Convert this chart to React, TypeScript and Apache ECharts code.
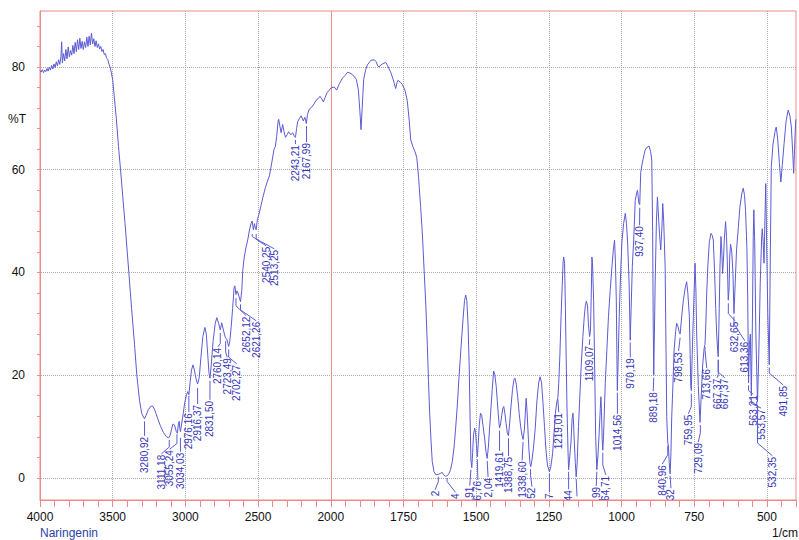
import React, { useEffect, useRef } from "react";
import * as echarts from "echarts";

// ---- spectrum 4000 -> 2000 cm-1 (compressed half of the axis) ----
const highWn = [
  4000, 3992, 3984, 3976, 3968, 3960, 3952, 3944, 3936, 3928, 3920, 3912, 3904, 3896, 3888, 3880,
  3872, 3864, 3856, 3851, 3846, 3838, 3830, 3822, 3814, 3806, 3798, 3790, 3782, 3774, 3766, 3758,
  3750, 3742, 3734, 3726, 3718, 3710, 3702, 3694, 3686, 3678, 3670, 3662, 3654, 3646, 3638, 3630,
  3622, 3614, 3606, 3598, 3590, 3582, 3574, 3566, 3558, 3550, 3542, 3534, 3526, 3518, 3510, 3500,
  3490, 3475, 3460, 3446, 3430, 3415, 3400, 3389, 3370, 3350, 3334, 3315, 3300, 3281, 3270, 3255,
  3235, 3225, 3210, 3190, 3170, 3150, 3130, 3115, 3105, 3095, 3085, 3075, 3062, 3055, 3048, 3043,
  3038, 3034, 3027, 3015, 3005, 2992, 2983, 2976, 2968, 2958, 2948, 2938, 2926, 2916, 2905, 2893,
  2880, 2866, 2856, 2845, 2838, 2831, 2822, 2810, 2795, 2784, 2770, 2760, 2750, 2740, 2730, 2723,
  2715, 2708, 2702, 2695, 2685, 2675, 2665, 2660, 2652, 2645, 2636, 2621, 2612, 2605, 2595, 2582,
  2570, 2558, 2548, 2541, 2532, 2525, 2518, 2513, 2505, 2495, 2480, 2468, 2450, 2435, 2422, 2405,
  2390, 2381, 2372, 2362, 2358, 2350, 2342, 2331, 2322, 2312, 2300, 2290, 2275, 2262, 2250, 2243,
  2235, 2228, 2215, 2204, 2189, 2178, 2168, 2160, 2148, 2130, 2115, 2102, 2088, 2074, 2062, 2051,
  2040, 2025, 2010,
];
const highT = [
  79.3, 79.0, 79.5, 78.9, 79.4, 79.1, 79.7, 79.2, 80.0, 79.4, 80.3, 79.6, 80.6, 79.9, 81.0, 80.2,
  81.4, 80.5, 82.0, 84.9, 80.8, 82.6, 81.2, 83.4, 81.6, 83.9, 82.0, 83.2, 82.3, 84.2, 82.6, 84.8,
  83.0, 85.3, 83.4, 85.6, 83.6, 85.0, 83.4, 84.9, 83.8, 85.8, 84.0, 86.0, 84.3, 86.6, 84.5, 85.5,
  84.0, 85.1, 83.8, 84.5, 83.5, 84.0, 83.0, 83.4, 82.4, 82.6, 81.7, 81.5, 80.6, 80.0, 79.0, 77.5,
  74.5, 70.0, 64.5, 60.0, 54.5, 49.5, 44.0, 40.0, 33.0, 26.0, 20.0, 15.0, 12.5, 11.5, 12.2, 13.3,
  14.0, 14.0, 13.2, 11.5, 10.0, 8.8, 8.0, 7.8, 8.3, 9.5, 10.5, 10.3, 9.0, 8.7, 10.5, 11.0,
  9.6, 9.0, 10.3, 12.5, 14.6, 16.2, 16.8, 16.2, 18.5, 21.0, 22.0, 21.0, 19.2, 18.3, 19.5, 23.5,
  27.5, 29.3, 28.0, 23.5, 20.5, 19.4, 22.0, 26.5, 30.0, 31.2, 30.0, 28.8, 30.2, 29.0, 27.8, 27.2,
  27.0, 26.2, 25.6, 26.5, 29.4, 33.0, 37.0, 37.4, 35.7, 36.4, 35.8, 34.3, 36.5, 40.5, 43.0, 45.0,
  46.5, 48.5, 49.5, 50.0, 48.3, 49.5, 48.6, 48.3, 50.3, 51.2, 53.0, 54.5, 56.5, 57.8, 58.8, 61.5,
  64.0, 64.5, 66.5, 69.5, 69.8, 68.5, 67.2, 68.8, 67.5, 66.3, 66.8, 67.4, 66.8, 67.2, 66.5, 66.3,
  68.0, 69.3, 70.0, 70.5, 69.5, 70.2, 69.0, 70.8, 71.8, 72.2, 72.8, 73.5, 73.8, 74.3, 73.8, 73.2,
  74.0, 75.0, 75.5,
];

// ---- spectrum 2000 -> 400 cm-1 ----
const lowWn = [
  2000, 1988, 1980, 1970, 1960, 1950, 1942, 1930, 1920, 1912, 1905, 1900, 1896, 1892, 1887, 1880,
  1874, 1862, 1850, 1845, 1838, 1834, 1828, 1822, 1811, 1805, 1794, 1785, 1777, 1772, 1769, 1760,
  1754, 1745, 1737, 1730, 1725, 1717, 1710, 1704, 1698, 1691, 1685, 1679, 1673, 1668, 1664, 1660,
  1655, 1651, 1645, 1638, 1630, 1622, 1617, 1612, 1605, 1598, 1594, 1588, 1582, 1576, 1571, 1565,
  1559, 1552, 1545, 1540, 1536, 1532, 1528, 1524, 1521, 1518, 1515, 1512, 1509, 1505, 1502, 1499,
  1496, 1493, 1489, 1485, 1481, 1476, 1471, 1466, 1462, 1458, 1454, 1450, 1445, 1440, 1436, 1431,
  1426, 1422, 1419.6, 1416, 1412, 1408, 1405, 1401, 1397, 1393, 1389, 1385, 1380, 1375, 1370, 1366,
  1362, 1357, 1352, 1347, 1342, 1338.6, 1334, 1331, 1328, 1325, 1322, 1319, 1315, 1312, 1308, 1303,
  1297, 1291, 1285, 1280, 1275, 1270, 1265, 1260, 1255, 1248, 1243, 1237, 1232, 1227.5, 1222, 1219,
  1216, 1212, 1208, 1204, 1201, 1199, 1196, 1193, 1190, 1187.7, 1184, 1182, 1179, 1176, 1174, 1170,
  1167, 1165, 1162.3, 1159, 1156, 1153, 1148, 1144, 1139, 1133, 1128, 1124.5, 1121, 1117, 1114, 1110,
  1107, 1104, 1102, 1100, 1096, 1092, 1089, 1085, 1081, 1077, 1073, 1071, 1069, 1066.5, 1064.5, 1062,
  1058, 1056, 1050, 1045, 1039, 1033, 1028, 1024, 1021, 1018, 1016, 1014.5, 1012, 1008, 1003, 999,
  993, 987, 983, 979, 974, 970.2, 967, 963, 958, 953, 948, 945, 940.5, 937.4, 934, 928,
  919, 912, 905, 900, 896, 893, 891, 889.2, 887, 884.4, 880, 876.5, 872, 869.6, 865.2, 861,
  858.3, 855, 850, 847, 844.6, 841, 838.8, 836, 833, 830, 827.4, 823, 819.2, 814, 810.3, 806,
  801, 798.5, 793, 787.3, 781, 776, 772, 766.7, 764, 762, 760, 757, 753, 750, 747.2, 744,
  741.7, 736, 730, 726, 721, 716, 713, 710, 707, 703, 698, 692.3, 688, 684.4, 680, 676,
  673, 669, 667.4, 664, 661.4, 658, 655, 652.5, 649, 646.7, 642.2, 639, 636.4, 633, 630, 628,
  625, 621, 616.8, 613.4, 609, 604.5, 598, 592.8, 586, 581.5, 577, 573.6, 569, 566, 563.2, 560,
  557, 553.6, 550, 547, 545, 542, 538, 532.4, 528, 523, 518, 516, 513, 510, 507, 504,
  501, 497, 492, 488, 485, 479, 472, 468, 463, 457, 452, 447, 441, 434, 427, 421,
  416, 411, 408, 405, 401, 400,
];
const lowT = [
  75.9, 76.1, 75.5, 76.8, 77.8, 78.4, 79.0, 78.7, 78.2, 77.6, 75.5, 71.5, 67.8, 72.0, 77.5, 79.5,
  80.4, 81.3, 81.4, 81.1, 80.2, 80.0, 80.4, 80.6, 80.9, 80.3, 79.0, 77.5, 75.8, 77.0, 77.4, 77.0,
  76.6, 75.5, 73.5, 69.5, 65.8, 64.4, 63.5, 62.3, 58.5, 52.8, 47.5, 40.5, 33.5, 26.0, 19.0, 12.8,
  7.0, 3.2, 1.2, 0.6, 0.7, 0.9, 1.1, 0.6, 0.3, 0.5, 0.8, 1.6, 3.2, 6.0, 9.3, 14.0,
  19.5, 25.5, 31.0, 34.5, 35.6, 34.5, 30.0, 22.0, 12.0, 3.5, 2.0, 5.0, 8.5, 9.7, 8.8, 6.5,
  4.1, 6.5, 10.5, 12.6, 12.2, 10.0, 7.8, 5.0, 3.8, 6.0, 9.5, 12.8, 17.0, 20.8, 20.2, 17.8,
  14.0, 11.0, 9.7, 10.5, 12.2, 13.6, 13.9, 12.5, 10.6, 8.8, 8.2, 10.5, 14.0, 17.2, 19.2, 19.4,
  18.2, 15.8, 12.5, 10.0, 8.2, 7.5, 9.5, 12.5, 15.5, 13.0, 9.5, 6.0, 2.8, 2.2, 3.5, 5.8,
  9.5, 15.0, 18.5, 19.7, 18.5, 14.5, 10.0, 5.5, 2.5, 1.2, 2.2, 4.8, 8.8, 12.6, 15.0, 15.6,
  18.4, 24.0, 31.4, 37.5, 42.0, 43.0, 41.8, 33.0, 22.0, 14.0, 5.0, 1.6, 3.5, 5.5, 6.8, 11.5,
  12.6, 10.5, 6.8, 3.0, 0.2, 2.5, 10.0, 15.2, 21.5, 27.5, 31.5, 33.5, 34.4, 33.5, 30.0, 27.5,
  28.5, 36.0, 43.0, 42.0, 34.6, 20.0, 8.0, 1.6, 4.5, 8.7, 13.5, 15.8, 13.0, 7.5, 5.4, 8.0,
  15.0, 18.4, 25.5, 31.4, 36.5, 41.1, 44.5, 46.3, 42.0, 34.6, 24.0, 17.0, 22.0, 31.4, 40.0, 45.7,
  49.5, 51.5, 49.5, 45.7, 37.9, 26.8, 33.0, 41.1, 46.5, 54.0, 55.5, 56.0, 53.5, 53.2, 59.5, 61.5,
  63.8, 64.4, 64.6, 63.5, 61.9, 48.0, 30.0, 20.0, 28.0, 37.9, 50.0, 54.7, 50.0, 47.6, 44.4, 49.0,
  53.4, 50.0, 41.1, 25.0, 11.9, 6.8, 6.2, 3.0, 0.8, 5.0, 11.9, 18.5, 24.9, 28.5, 30.1, 29.5,
  28.3, 28.0, 31.5, 34.6, 37.0, 38.2, 36.0, 31.4, 24.0, 18.0, 17.0, 24.0, 31.4, 37.0, 41.8, 36.0,
  28.2, 18.0, 10.8, 16.0, 22.0, 25.2, 26.0, 30.0, 36.0, 41.5, 46.0, 47.6, 47.2, 46.3, 40.0, 33.0,
  28.2, 24.5, 23.6, 33.0, 41.1, 47.0, 44.0, 39.8, 43.0, 46.3, 49.9, 47.0, 42.4, 34.6, 37.0, 43.0,
  45.5, 44.0, 39.8, 32.0, 38.0, 44.4, 49.0, 52.8, 55.5, 56.4, 55.0, 52.1, 45.0, 35.0, 18.5, 26.0,
  28.0, 16.0, 30.0, 47.0, 52.2, 46.0, 28.0, 14.8, 24.0, 38.0, 47.0, 48.5, 46.0, 41.8, 50.0, 57.3,
  46.0, 32.0, 22.0, 45.0, 60.6, 65.0, 67.5, 68.3, 66.0, 61.2, 57.6, 61.0, 65.1, 69.5, 71.6, 70.5,
  68.3, 63.0, 59.3, 64.0, 69.6, 69.8,
];

// ---- axis ticks ----
const xLabelWn = [4000, 3500, 3000, 2500, 2000, 1750, 1500, 1250, 1000, 750, 500];
const yLabelValues = [0, 20, 40, 60, 80];
const yTickValues = [0, 4, 8, 12, 16, 20, 24, 28, 32, 36, 40, 44, 48, 52, 56, 60, 64, 68, 72, 76, 80, 84, 88];

// ---- peak labels ----
const peakText = [
  "3280,92", "3111,18", "3055,24", "3034,03", "2976,16", "2916,37", "2831,50", "2760,14",
  "2723,49", "2702,27", "2652,12", "2621,26", "2540,25", "2513,25", "2243,21", "2167,99",
  "2", "4", ",91", "6,76", "2,04", "1419,61", "1388,75", "1338,60",
  "52", "7", "1219,01", "44", "", "1109,07", ",99", "064,71",
  "1014,56", "970,19", "937,40", "889,18", "840,96", "32", "798,53", "759,95",
  "729,09", "713,66", "667,37", "667,37", "632,65", "613,36", "563,21", "553,57",
  "532,35", "491,85",
];
const peakLabelWn = [
  3281, 3165, 3108, 3034, 2976, 2916, 2831, 2777,
  2712, 2646, 2582, 2513, 2445, 2388, 2243, 2167,
  1641, 1571, 1522, 1494, 1459, 1419.6, 1388.75, 1342,
  1308, 1248, 1216, 1182, 1153, 1111, 1087, 1054,
  1014, 970, 938, 891, 860, 830, 804, 770,
  736, 707, 671, 645, 610, 576, 547, 520,
  481, 444,
];
const peakLabelTop = [
  8.0, 4.5, 5.4, 4.9, 12.6, 14.2, 15.0, 25.3,
  23.3, 22.0, 31.4, 30.4, 45.0, 44.4, 64.8, 65.2,
  -2.5, -3.0, -1.7, -0.6, 0.0, 5.1, 4.1, 3.2,
  -1.9, -3.0, 12.6, -2.4, -3.8, 25.7, -1.75, 0.4,
  12.3, 23.3, 49.0, 16.7, 2.5, -2.2, 24.5, 12.3,
  6.8, 21.2, 19.3, 19.3, 30.4, 26.5, 16.1, 13.4,
  4.1, 17.9,
];
const peakAnchorWn = [
  3281, 3111, 3058, 3034, 2976, 2916, 2831, 2760,
  2723, 2702, 2652, 2621, 2540, 2513, 2243, 2167,
  1630, 1600, 1518, 1496, 1462, 1419.6, 1388.75, 1338.6,
  1313, 1248, 1219, 1182, 1156, 1109, 1085, 1064.5,
  1014.5, 970.2, 937.4, 889.2, 841, 833, 798.5, 760,
  729, 713, 667.4, 667.4, 632.7, 613.4, 563.2, 553.6,
  532.4, 492,
];
const peakAnchorT = [
  11.0, 7.4, 8.5, 7.8, 16.0, 17.5, 18.9, 28.2,
  26.6, 25.0, 35.0, 33.8, 47.5, 47.5, 65.8, 68.5,
  0.2, 0.0, 1.6, 3.6, 3.3, 9.2, 7.7, 7.0,
  1.7, 0.8, 15.3, 1.2, -0.2, 27.0, 1.2, 4.9,
  16.6, 26.4, 52.6, 19.5, 6.3, 0.4, 27.3, 16.4,
  10.3, 25.5, 23.0, 23.0, 34.0, 31.4, 18.0, 15.5,
  14.2, 21.5,
];
const peakKneeT = [
  11.0, 6.0, 6.7, 7.8, 16.0, 17.5, 18.9, 26.2,
  24.5, 23.5, 33.5, 32.7, 47.0, 46.5, 65.8, 68.5,
  -0.7, -0.7, 1.6, 3.6, 3.3, 9.2, 7.7, 7.0,
  0.5, 0.8, 15.3, 1.2, -0.2, 27.0, 1.2, 2.5,
  16.6, 26.4, 52.6, 19.5, 4.5, 0.4, 27.3, 13.9,
  8.8, 24.8, 20.0, 20.6, 32.0, 30.0, 17.0, 14.5,
  6.8, 20.4,
];

const CURVE = "#5b5bd4";
const LABEL = "#3434b8";
const RED = "#f08a8a";
const GRID = "#a8a8a8";
const FONT = '"Liberation Sans", Arial, sans-serif';

// wavenumber -> axis position (4000..2000 compressed by half)
function toPos(w: number): number {
  return w > 2000 ? 2000 + (w - 2000) / 2 : w;
}
function fromPos(p: number): number {
  return p > 2000 ? 2000 + (p - 2000) * 2 : p;
}

export default function App() {
  const ref = useRef<HTMLDivElement>(null);

  useEffect(() => {
    if (!ref.current) return;
    const chart = echarts.init(ref.current, undefined, { renderer: "svg" });

    const spectrum: number[][] = [];
    highWn.forEach((w, i) => spectrum.push([toPos(w), highT[i]]));
    lowWn.forEach((w, i) => spectrum.push([toPos(w), lowT[i]]));

    const labelPos = xLabelWn.map((w) => toPos(w));

    const gridLines: any[] = [];
    labelPos.forEach((p) => {
      if (p === 3000) return;
      gridLines.push({
        xAxis: p,
        lineStyle: p === 2000 ? { color: RED, type: "solid", width: 1 } : { color: GRID, type: "dotted", width: 1 },
      });
    });
    yLabelValues.forEach((v) => {
      gridLines.push({ yAxis: v, lineStyle: { color: GRID, type: "dotted", width: 1 } });
    });

    const labelData = peakText.map((_, i) => [toPos(peakLabelWn[i]), peakLabelTop[i]]);

    chart.setOption({
      animation: false,
      backgroundColor: "#ffffff",
      grid: {
        left: 40,
        right: 1,
        top: 11,
        bottom: 40,
        show: true,
        borderColor: RED,
        borderWidth: 1,
        backgroundColor: "transparent",
      },
      xAxis: {
        type: "value",
        min: 400,
        max: 3000,
        interval: 50,
        inverse: true,
        axisLine: { show: true, onZero: false, lineStyle: { color: RED, width: 1 } },
        axisTick: { show: true, inside: false, length: 7, lineStyle: { color: RED } },
        splitLine: { show: false },
        axisLabel: {
          color: "#111",
          fontSize: 12,
          fontFamily: FONT,
          margin: 11,
          formatter: (v: number) => {
            const r = Math.round(v);
            if (r % 250 !== 0 || r === 400) return "";
            return String(fromPos(r));
          },
        },
      },
      yAxis: {
        type: "value",
        min: -4.3,
        max: 90.9,
        axisLine: { show: true, onZero: false, lineStyle: { color: RED, width: 1 } },
        axisTick: { show: true, inside: false, length: 3, lineStyle: { color: RED }, customValues: yTickValues },
        splitLine: { show: false },
        axisLabel: {
          color: "#111",
          fontSize: 12,
          fontFamily: FONT,
          margin: 15,
          customValues: yLabelValues,
        },
      },
      graphic: [
        { type: "text", left: 8, top: 113, style: { text: "%T", fill: "#111", font: `12px ${FONT}` } },
        { type: "text", left: 40, top: 527, style: { text: "Naringenin", fill: "#2b3fa8", font: `12px ${FONT}` } },
        { type: "text", right: 1, top: 527, style: { text: "1/cm", fill: "#111", font: `12px ${FONT}` } },
      ],
      series: [
        {
          type: "line",
          data: spectrum,
          showSymbol: false,
          symbol: "none",
          lineStyle: { color: CURVE, width: 1 },
          z: 3,
          silent: true,
          markLine: {
            silent: true,
            symbol: "none",
            label: { show: false },
            z: 1,
            data: gridLines,
          },
        },
        {
          type: "custom",
          coordinateSystem: "cartesian2d",
          clip: true,
          silent: true,
          z: 4,
          data: labelData,
          renderItem: (params: any, api: any) => {
            const i = params.dataIndex;
            const a = api.coord([toPos(peakAnchorWn[i]), peakAnchorT[i]]);
            const k = api.coord([toPos(peakAnchorWn[i]), peakKneeT[i]]);
            const t = api.coord([toPos(peakLabelWn[i]), peakLabelTop[i]]);
            const children: any[] = [
              {
                type: "polyline",
                shape: { points: [a, k, [t[0], t[1] - 1]] },
                style: { stroke: CURVE, lineWidth: 1, fill: null },
              },
            ];
            if (peakText[i]) {
              children.push({
                type: "text",
                x: t[0],
                y: t[1],
                rotation: Math.PI / 2,
                style: {
                  text: peakText[i],
                  fill: LABEL,
                  font: `10px ${FONT}`,
                  align: "right",
                  verticalAlign: "middle",
                },
              });
            }
            return { type: "group", children };
          },
        },
      ],
    });

    return () => chart.dispose();
  }, []);

  return (
    <div
      ref={ref}
      style={{ position: "fixed", left: 0, top: 0, width: 799, height: 540, background: "#fff" }}
    />
  );
}
